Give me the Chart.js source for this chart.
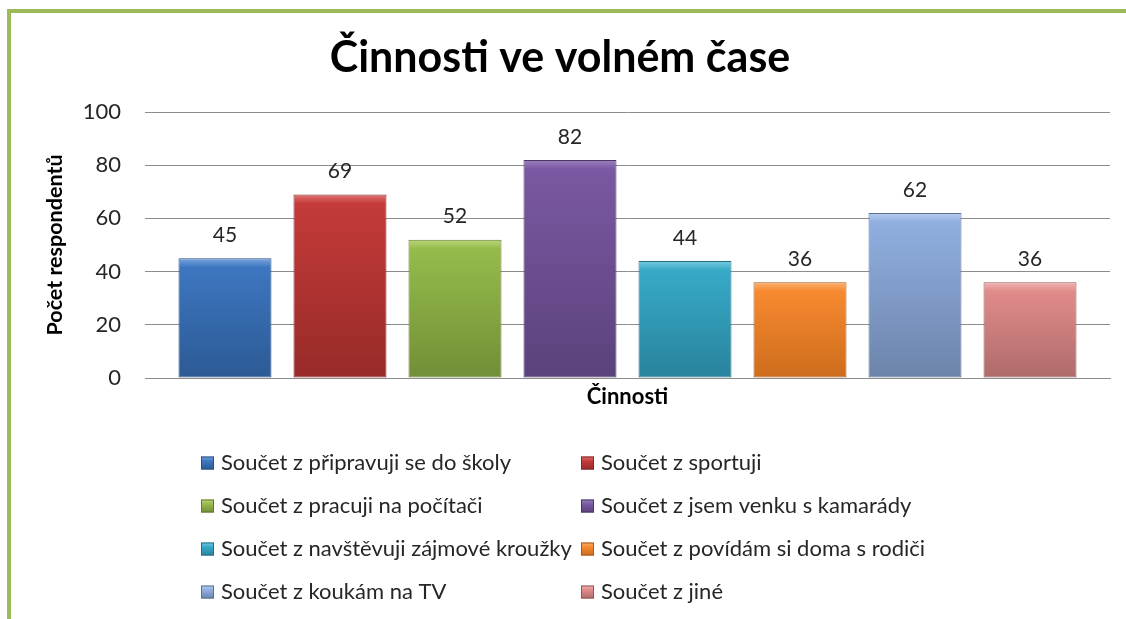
<!DOCTYPE html>
<html>
<head>
<meta charset="utf-8">
<script src="https://cdn.jsdelivr.net/npm/chart.js@4.4.0/dist/chart.umd.min.js"></script>
<style>
    html, body { margin: 0; padding: 0; background: #fff; overflow: hidden; }
    #frame {
        position: absolute; left: 7px; top: 9px; width: 1200px; height: 700px;
        border-left: 4px solid #9bbb59; border-top: 4px solid #9bbb59;
    }
    #wrap { position: absolute; left: 0; top: 0; width: 1126px; height: 619px; }
</style>
</head>
<body>
<div id="frame"></div>
<div id="wrap"><canvas id="chart" width="1126" height="619"></canvas></div>
<script>
// Data
const activities = [
    "Součet z připravuji se do školy",
    "Součet z sportuji",
    "Součet z pracuji na počítači",
    "Součet z jsem venku s kamarády",
    "Součet z navštěvuji zájmové kroužky",
    "Součet z povídám si doma s rodiči",
    "Součet z koukám na TV",
    "Součet z jiné"
];
const counts = [45, 69, 52, 82, 44, 36, 62, 36];
const yTickValues = [0, 20, 40, 60, 80, 100];

// Office 2007 style colours: highlight, top, bottom, outline
const lightColors = ["#7ba6dc", "#e07573", "#b9d77b", "#9c82c0", "#79cbe0", "#fbb06e", "#b7cdee", "#f0b3b2"];
const topColors = ["#3d76c0", "#c43b39", "#96bb4b", "#7a58a2", "#37aac8", "#f78a30", "#90afdf", "#e18b8b"];
const bottomColors = ["#2c5a94", "#972a29", "#718f37", "#5b427b", "#29839c", "#cd6c1c", "#6c84ab", "#ae6b6a"];
const outlineColors = ["#284f80", "#7f2524", "#5f7a2e", "#4b3766", "#226f84", "#a9591a", "#5b6f91", "#8f5958"];

Chart.defaults.font.family = "Lato, 'DejaVu Sans', sans-serif";
Chart.defaults.color = "#262626";

function barFill(ctx) {
    const chart = ctx.chart;
    const i = ctx.datasetIndex;
    if (!chart.chartArea) return topColors[i];
    const y = chart.scales.y;
    const top = y.getPixelForValue(counts[i]);
    const bottom = y.getPixelForValue(0);
    const g = chart.ctx.createLinearGradient(0, top, 0, bottom);
    const s = Math.min(0.3, 9 / (bottom - top));
    g.addColorStop(0, lightColors[i]);
    g.addColorStop(s, topColors[i]);
    g.addColorStop(1, bottomColors[i]);
    return g;
}

// value above each bar
const valueLabels = {
    id: "valueLabels",
    afterDatasetsDraw(chart) {
        const c = chart.ctx;
        c.save();
        c.font = "21px Lato";
        c.fillStyle = "#262626";
        c.textAlign = "center";
        c.textBaseline = "middle";
        chart.data.datasets.forEach((ds, i) => {
            const bar = chart.getDatasetMeta(i).data[0];
            c.fillText(ds.data[0], bar.x, bar.y - 23);
        });
        c.restore();
    }
};

// two column legend like Excel
const columnLegend = {
    id: "columnLegend",
    afterDraw(chart) {
        const c = chart.ctx;
        const colX = [201, 581];
        const rowY = 463, rowStep = 43, box = 13;
        c.save();
        c.font = "22px Lato";
        c.textBaseline = "middle";
        chart.data.datasets.forEach((ds, i) => {
            const x = colX[i % 2];
            const y = rowY + Math.floor(i / 2) * rowStep;
            const g = c.createLinearGradient(0, y - box / 2, 0, y + box / 2);
            g.addColorStop(0, lightColors[i]);
            g.addColorStop(0.35, topColors[i]);
            g.addColorStop(1, bottomColors[i]);
            c.fillStyle = g;
            c.fillRect(x, y - box / 2, box, box);
            c.strokeStyle = outlineColors[i];
            c.lineWidth = 1;
            c.strokeRect(x + 0.5, y - box / 2 + 0.5, box - 1, box - 1);
            c.fillStyle = "#262626";
            c.fillText(ds.label, x + 20, y);
        });
        c.restore();
    }
};

const datasets = activities.map((name, i) => ({
    label: name,
    data: [counts[i]],
    backgroundColor: barFill,
    borderColor: outlineColors[i],
    borderWidth: 1,
    borderSkipped: false,
    categoryPercentage: 0.9534,
    barPercentage: 0.8087
}));

new Chart(document.getElementById("chart"), {
    type: "bar",
    data: { labels: [""], datasets: datasets },
    plugins: [valueLabels, columnLegend],
    options: {
        responsive: false,
        animation: false,
        layout: { padding: { top: 20, left: 10, right: 16, bottom: 208.8 } },
        plugins: {
            legend: { display: false },
            tooltip: { enabled: false },
            title: {
                display: true,
                text: "Činnosti ve volném čase",
                color: "#000",
                font: { size: 43, weight: "bold" },
                padding: { top: 12.2, bottom: 28.2 }
            }
        },
        scales: {
            x: {
                grid: { display: false },
                border: { display: true, color: "#8c8c8c" },
                ticks: { display: false },
                title: {
                    display: true,
                    text: "Činnosti",
                    color: "#000",
                    font: { size: 22, weight: "bold" },
                    padding: { top: 0, bottom: 0 }
                },
                afterFit(scale) { scale.height = 32.2; }
            },
            y: {
                min: 0,
                max: 100,
                afterBuildTicks(scale) { scale.ticks = yTickValues.map(v => ({ value: v })); },
                grid: { color: "#8c8c8c", drawTicks: false },
                border: { display: false },
                ticks: { padding: 24, font: { size: 22 }, color: "#262626" },
                title: {
                    display: true,
                    text: "Počet respondentů",
                    color: "#000",
                    font: { size: 21.5, weight: "bold" },
                    padding: { top: 31.8, bottom: 0 }
                },
                afterFit(scale) { scale.width = 135; }
            }
        }
    }
});
</script>
</body>
</html>
